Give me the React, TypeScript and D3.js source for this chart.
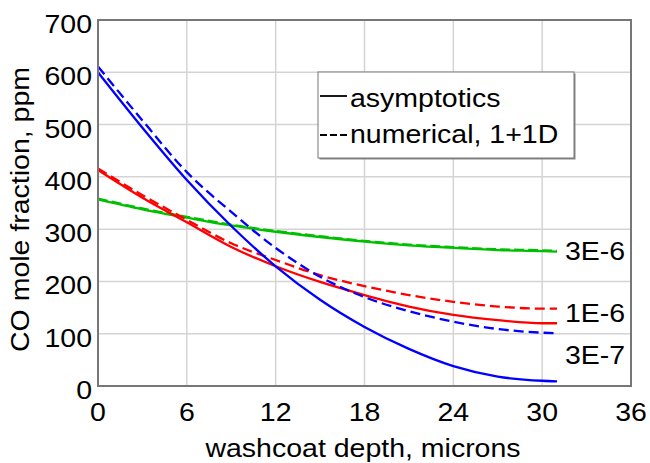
import React from "react";
import * as d3 from "d3";

const depth = [0, 3, 6, 9, 12, 15, 18, 21, 24, 27, 30, 31];
const asym3E7 = [600, 494, 394, 306, 229, 165, 113, 71, 38, 18, 10, 9];
const num3E7 = [611, 508, 409, 333, 264, 209, 170, 143, 123, 109, 102, 101];
const asym1E6 = [413, 360, 313, 266, 229, 199, 174, 152, 136, 126, 120, 120];
const num1E6 = [416, 365, 318, 273, 241, 212, 191, 174, 161, 152, 148, 148];
const asym3E6 = [357, 338, 322, 307, 295, 285, 276, 269, 264, 260, 258, 257];
const num3E6 = [358.5, 339.5, 323.5, 308.5, 296.5, 286.5, 277.5, 270.5, 265.5, 261.5, 259.5, 258.5];

const xTicks = [0, 6, 12, 18, 24, 30, 36];
const yTicks = [0, 100, 200, 300, 400, 500, 600, 700];
const curveLabels = ["3E-6", "1E-6", "3E-7"];
const legendLabels = ["asymptotics", "numerical, 1+1D"];

const W = 650, H = 463;
const FONT = "'Liberation Sans', Arial, sans-serif";
const SX = 1.14;

export default function App() {
  const x = d3.scaleLinear().domain([0, 36]).range([98, 631]);
  const y = d3.scaleLinear().domain([0, 700]).range([386, 20]);
  const line = d3
    .line<[number, number]>()
    .x((d) => x(d[0]))
    .y((d) => y(d[1]))
    .curve(d3.curveMonotoneX);
  const pts = (vals: number[]) => depth.map((d, i) => [d, vals[i]] as [number, number]);

  const series = [
    { vals: asym3E6, color: "#00bf00", dash: undefined },
    { vals: num3E6, color: "#00bf00", dash: "10,4" },
    { vals: asym1E6, color: "#ff0000", dash: undefined },
    { vals: num1E6, color: "#ff0000", dash: "10,5" },
    { vals: asym3E7, color: "#0000ff", dash: undefined },
    { vals: num3E7, color: "#0000ff", dash: "10,5" },
  ];

  const txt = (
    key: string,
    tx: number,
    ty: number,
    s: string,
    anchor: "start" | "middle" | "end",
    rot = 0
  ) => (
    <g key={key} transform={`translate(${tx},${ty}) rotate(${rot}) scale(${SX},1)`}>
      <text x={0} y={0} fontSize={25} fontFamily={FONT} textAnchor={anchor} fill="#000">
        {s}
      </text>
    </g>
  );

  const [x0, x1] = x.range();
  const [y0, y1] = y.range();

  return (
    <svg
      width={W}
      height={H}
      style={{ position: "absolute", left: 0, top: 0, background: "#fff" }}
    >
      <rect x={0} y={0} width={W} height={H} fill="#fff" />
      {xTicks.slice(1, -1).map((t) => (
        <line key={"gx" + t} x1={x(t)} x2={x(t)} y1={y1} y2={y0} stroke="#d4d4d4" strokeWidth={1.5} />
      ))}
      {yTicks.slice(1, -1).map((t) => (
        <line key={"gy" + t} x1={x0} x2={x1} y1={y(t)} y2={y(t)} stroke="#d4d4d4" strokeWidth={1.5} />
      ))}
      {series.map((s, i) => (
        <path
          key={"s" + i}
          d={line(pts(s.vals)) || ""}
          fill="none"
          stroke={s.color}
          strokeWidth={2.3}
          strokeDasharray={s.dash}
        />
      ))}
      <rect x={x0} y={y1} width={x1 - x0} height={y0 - y1} fill="none" stroke="#777" strokeWidth={2} />
      {xTicks.map((t) => txt("xt" + t, x(t), 421, String(t), "middle"))}
      {yTicks.map((t) => txt("yt" + t, 92, y(t) + 13, String(t), "end"))}
      {txt("xl", 363, 457, "washcoat depth, microns", "middle")}
      {txt("yl", 29, 209.5, "CO mole fraction, ppm", "middle", -90)}
      {curveLabels.map((s, i) =>
        txt("cl" + i, 565, [259.5, 321.5, 363.5][i], s, "start")
      )}
      <rect x={319.5} y={73.5} width={256} height={86} fill="#888" />
      <rect x={318} y={72} width={256} height={86} fill="#fff" stroke="#777" strokeWidth={1} />
      <line x1={320} x2={347} y1={96} y2={96} stroke="#000" strokeWidth={1.8} />
      <line x1={320} x2={347} y1={135} y2={135} stroke="#000" strokeWidth={1.8} strokeDasharray="7,3" />
      {txt("lg0", 350, 106.5, legendLabels[0], "start")}
      {txt("lg1", 350, 142.5, legendLabels[1], "start")}
    </svg>
  );
}
